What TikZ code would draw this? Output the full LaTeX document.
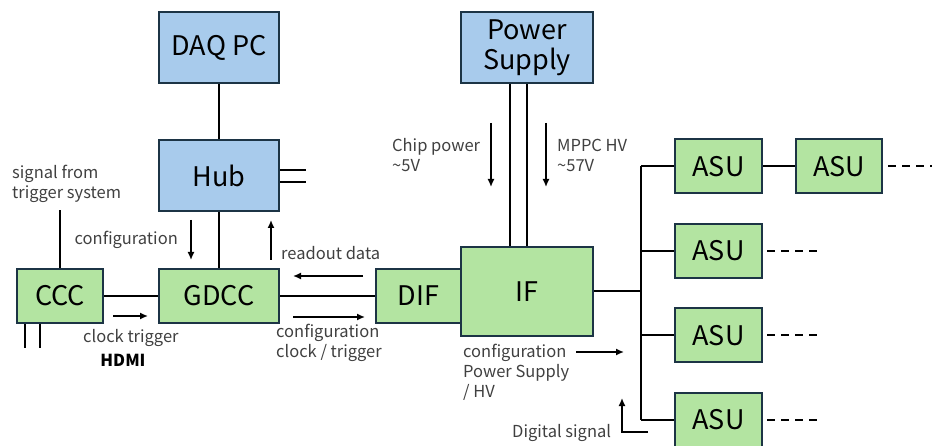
\documentclass[tikz,border=0pt]{standalone}
\usepackage{fontspec}
\setmainfont{Noto Sans CJK JP}
\usetikzlibrary{
    arrows.meta,
    positioning
}

\definecolor{pcblue}{HTML}{A8CBEC}
\definecolor{boardgreen}{HTML}{B3E4A1}
\definecolor{edgenavy}{HTML}{1C3445}
\definecolor{notegray}{HTML}{404040}

\tikzset{
    unit/.style={draw=edgenavy,line width=2pt,inner sep=0pt,
        font=\fontsize{27}{30}\selectfont,align=center},
    pcunit/.style={unit,fill=pcblue,minimum width=120pt,minimum height=71pt},
    board/.style={unit,fill=boardgreen,minimum height=54pt},
    wire/.style={line width=2pt},
    flow/.style={line width=1.5pt,-{Latex[length=8pt,width=7pt]}},
    note/.style={inner sep=0pt,text=notegray,align=left,
        font=\fontsize{16.5}{20}\selectfont},
    chain/.style={wire,dash pattern=on 8pt off 6pt}
}

\begin{document}
\begin{tikzpicture}[x=1pt,y=-1pt]
\useasboundingbox (0,0) rectangle (932,446);

% Boxes
\node[pcunit] (daq) at (219,47.5) {DAQ PC};
\node[pcunit] (hub) at (219,175.5) {Hub};
\node[pcunit,minimum width=132pt] (ps) at (527,47.5) {Power\\Supply};
\node[board,minimum width=86pt] (ccc) at (60,296) {CCC};
\node[board,minimum width=120pt] (gdcc) at (219,296) {GDCC};
\node[board,minimum width=85pt] (dif) at (418.5,296) {DIF};
\node[board,minimum width=132pt,minimum height=89pt] (if) at (527,291.5) {IF};

% ASUs
\node[board,minimum width=87pt] (a1) at (718.5,166.5) {ASU};
\node[board,minimum width=87pt] (a2) at (718.5,251) {ASU};
\node[board,minimum width=87pt] (a3) at (718.5,335.5) {ASU};
\node[board,minimum width=87pt] (a4) at (718.5,420) {ASU};
\node[board,minimum width=86pt] (a5) at (839,166.5) {ASU};

% Cables
\draw[wire] (daq) -- (hub);
\draw[wire] (hub) -- (gdcc);
\draw[wire] ([yshift=5.5pt]hub.east) -- ++(26,0);
\draw[wire] ([yshift=-6.5pt]hub.east) -- ++(26,0);
\draw[wire] (ccc) -- (gdcc);
\draw[wire] (ccc.north) -- ++(0,-58);
\draw[wire] ([xshift=-35pt]ccc.south) -- ++(0,24);
\draw[wire] ([xshift=-20pt]ccc.south) -- ++(0,24);
\draw[wire] (gdcc) -- (dif);
\draw[wire] ([xshift=-17pt]ps.south) -- ([xshift=-17pt]if.north);
\draw[wire] (ps.south) -- (if.north);

% Bus to ASUs
\coordinate (bustop) at (641,166.5);
\coordinate (busend) at (641,420);
\draw[wire] (bustop) -- (busend);
\draw[wire] (if.east) -- (if.east -| bustop);
\foreach \r in {1,2,3,4}{
    \draw[wire] (a\r.west) -- (a\r.west -| bustop);
}
\draw[wire] (a1) -- (a5);
\foreach \r in {2,3,4}{
    \draw[chain] ([xshift=4pt]a\r.east) -- ++(51,0);
}
\draw[chain] ([xshift=5pt]a5.east) -- ++(60,0);

% Signal arrows
\draw[flow] (191,220) -- (191,260);
\draw[flow] (271,260) -- (271,220);
\draw[flow] (363,276) -- (293,276);
\draw[flow] (293,317) -- (365,317);
\draw[flow] (113,316) -- (148,316);
\draw[flow] (491,123) -- (491,187);
\draw[flow] (546,123) -- (546,187);
\draw[flow] (576,352) -- (624,352);
\draw[flow] (648,432) -- (622,432) -- (622,398);

% Labels
\node[note,anchor=west] (trig) at (12,184) {signal from\\trigger system};
\node[note,anchor=east] (conf) at (178,240) {configuration};
\node[note,anchor=west] (rdo) at (281,253) {readout data};
\node[note,anchor=west] (conf2) at (276,342.5) {configuration\\clock / trigger};
\node[note,anchor=west] (clk) at (83,338) {clock trigger};
\node[note,anchor=center,text=black,font=\fontsize{16.5}{20}\selectfont\bfseries] (hdmi) at (123,360) {HDMI};
\node[note,anchor=west] (chip) at (392,155) {Chip power\\\char`\~5V};
\node[note,anchor=west] (mppc) at (557,155) {MPPC HV\\\char`\~57V};
\node[note,anchor=west] (conf3) at (463,372) {configuration\\Power Supply\\/ HV};
\node[note,anchor=west] (dig) at (512,433) {Digital signal};

\end{tikzpicture}
\end{document}
